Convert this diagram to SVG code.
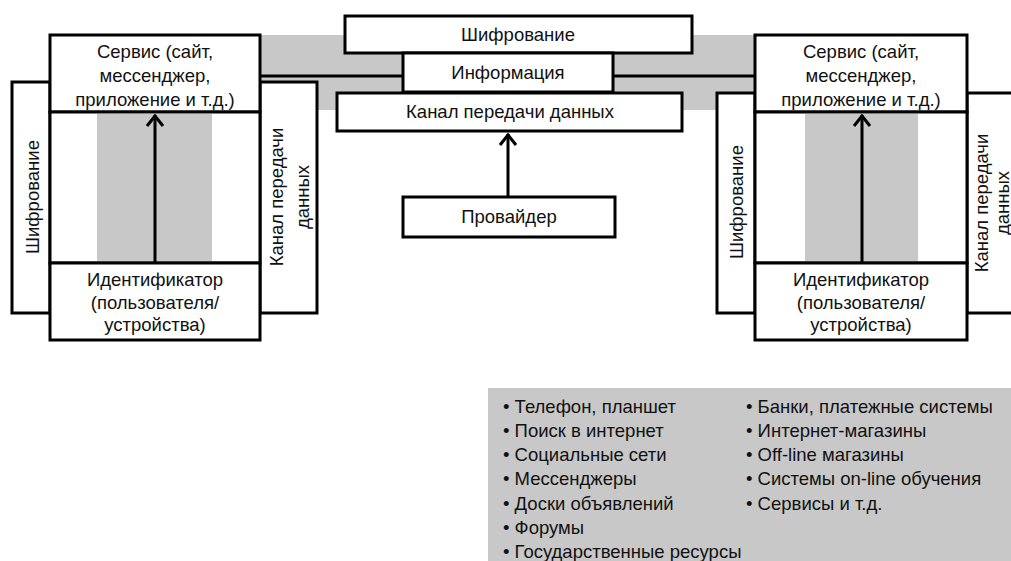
<svg xmlns="http://www.w3.org/2000/svg" width="1011" height="561" viewBox="0 0 1011 561">
<defs>
<style>
.box{fill:#fff;stroke:#000;stroke-width:3}
.band{fill:#c8c8c8}
.t{font-family:"Liberation Sans",Arial,sans-serif;font-size:18.5px;fill:#111;text-anchor:middle}
.l{font-family:"Liberation Sans",Arial,sans-serif;font-size:18.5px;fill:#111}
.line{stroke:#000;stroke-width:3;fill:none}
</style>
<marker id="arr" viewBox="0 0 20 20" refX="16" refY="10" markerWidth="20" markerHeight="20" markerUnits="userSpaceOnUse" orient="auto">
<polyline points="5,2 15,10 5,18" fill="none" stroke="#000" stroke-width="3"/>
</marker>
</defs>
<rect width="1011" height="561" fill="#fff"/>
<rect class="band" x="260" y="35" width="497" height="75"/>
<g id="connectors">
<line class="line" x1="260" y1="76" x2="403" y2="76"/>
<line class="line" x1="613" y1="76" x2="757" y2="76"/>
</g>
<g id="left-encrypt"><rect class="box" x="12" y="82" width="38" height="231"/>
<text class="t" transform="translate(39,197) rotate(-90)">Шифрование</text></g>
<g id="left-channel"><rect class="box" x="260" y="82" width="57" height="231"/>
<text class="t" transform="translate(283,197) rotate(-90)">Канал передачи</text>
<text class="t" transform="translate(309,197) rotate(-90)">данных</text></g>
<g id="left-service"><rect class="box" x="50" y="35" width="210" height="77"/>
<text class="t" x="155" y="58">Сервис (сайт,</text>
<text class="t" x="155" y="82">мессенджер,</text>
<text class="t" x="155" y="106">приложение и т.д.)</text></g>
<g id="left-middle"><rect class="box" x="50" y="112" width="210" height="151"/>
<rect class="band" x="97" y="114" width="115" height="147"/></g>
<g id="left-id"><rect class="box" x="50" y="263" width="210" height="77"/>
<text class="t" x="155" y="286">Идентификатор</text>
<text class="t" x="155" y="309">(пользователя/</text>
<text class="t" x="155" y="331">устройства)</text></g>
<g id="center-encrypt"><rect class="box" x="345" y="16" width="347" height="37"/>
<text class="t" x="518" y="41">Шифрование</text></g>
<g id="center-info"><rect class="box" x="403" y="53" width="210" height="39"/>
<text class="t" x="508" y="79">Информация</text></g>
<g id="center-channel"><rect class="box" x="337" y="93" width="345" height="38"/>
<text class="t" x="510" y="118">Канал передачи данных</text></g>
<g id="provider"><rect class="box" x="403" y="197" width="212" height="40"/>
<text class="t" x="509" y="223">Провайдер</text></g>
<g id="right-encrypt"><rect class="box" x="717" y="93" width="38" height="220"/>
<text class="t" transform="translate(743,202) rotate(-90)">Шифрование</text></g>
<g id="right-channel"><rect class="box" x="967" y="93" width="60" height="220"/>
<text class="t" transform="translate(988,203) rotate(-90)">Канал передачи</text>
<text class="t" transform="translate(1009,203) rotate(-90)">данных</text></g>
<g id="right-service"><rect class="box" x="755" y="35" width="212" height="77"/>
<text class="t" x="861" y="58">Сервис (сайт,</text>
<text class="t" x="861" y="82">мессенджер,</text>
<text class="t" x="861" y="106">приложение и т.д.)</text></g>
<g id="right-middle"><rect class="box" x="755" y="112" width="212" height="151"/>
<rect class="band" x="805" y="114" width="113" height="147"/></g>
<g id="right-id"><rect class="box" x="755" y="263" width="212" height="77"/>
<text class="t" x="861" y="286">Идентификатор</text>
<text class="t" x="861" y="309">(пользователя/</text>
<text class="t" x="861" y="331">устройства)</text></g>
<g id="arrows">
<line class="line" x1="155" y1="263" x2="155" y2="115" marker-end="url(#arr)"/>
<line class="line" x1="862" y1="263" x2="862" y2="115" marker-end="url(#arr)"/>
<line class="line" x1="508" y1="197" x2="508" y2="134" marker-end="url(#arr)"/>
</g>
<g id="list">
<rect class="band" x="488" y="388" width="530" height="180"/>
<g class="l">
<text x="503" y="413">• Телефон, планшет</text>
<text x="503" y="437">• Поиск в интернет</text>
<text x="503" y="461">• Социальные сети</text>
<text x="503" y="485">• Мессенджеры</text>
<text x="503" y="510">• Доски объявлений</text>
<text x="503" y="534">• Форумы</text>
<text x="503" y="558">• Государственные ресурсы</text>
<text x="746" y="413">• Банки, платежные системы</text>
<text x="746" y="437">• Интернет-магазины</text>
<text x="746" y="461">• Off-line магазины</text>
<text x="746" y="485">• Системы on-line обучения</text>
<text x="746" y="510">• Сервисы и т.д.</text>
</g>
</g>
</svg>
